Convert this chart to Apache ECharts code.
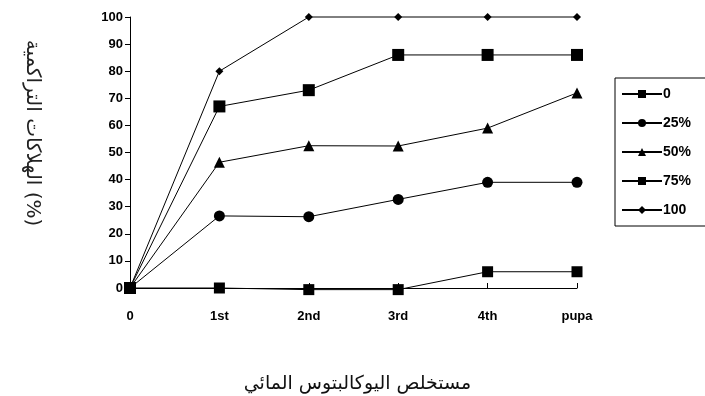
<!DOCTYPE html>
<html>
<head>
<meta charset="utf-8">
<script src="https://cdn.jsdelivr.net/npm/echarts@6/dist/echarts.min.js"></script>
<style>
  html, body { margin: 0; padding: 0; background: #fff; }
  #chart { width: 705px; height: 396px; }
</style>
</head>
<body>
<div id="chart"></div>
<script>
const stages = ['0', '1st', '2nd', '3rd', '4th', 'pupa'];
const yTicks = [0, 10, 20, 30, 40, 50, 60, 70, 80, 90, 100];

const conc0 = [0, 0, -0.6, -0.6, 6, 6];
const conc25 = [0, 26.6, 26.3, 32.7, 39, 39];
const conc50 = [0, 46.4, 52.5, 52.4, 59, 72];
const conc75 = [0, 67, 73, 86, 86, 86];
const conc100 = [0, 80, 100, 100, 100, 100];

const seriesNames = ['0', '25%', '50%', '75%', '100'];
const seriesData = [conc0, conc25, conc50, conc75, conc100];
const seriesSymbols = ['rect', 'circle', 'triangle', 'rect', 'diamond'];
const symbolSizes = [11, 11, 11, 12, 8];

const chart = echarts.init(document.getElementById('chart'));
const boldFont = { fontFamily: 'Liberation Sans', fontWeight: 'bold', fontSize: 13, color: '#000' };

chart.setOption({
  animation: false,
  grid: { left: 130, right: 128, top: 17, bottom: 108, outerBoundsMode: 'none' },
  xAxis: {
    type: 'category',
    data: stages,
    boundaryGap: false,
    name: 'مستخلص اليوكالبتوس المائي',
    nameLocation: 'middle',
    nameGap: 87,
    nameTextStyle: { fontFamily: 'DejaVu Sans', fontSize: 19, color: '#111', padding: [0, 0, 0, 8] },
    axisLine: { onZero: false, lineStyle: { color: '#000', width: 1 } },
    axisTick: { inside: true, length: 5, lineStyle: { color: '#000' } },
    axisLabel: Object.assign({ margin: 22 }, boldFont),
    splitLine: { show: false }
  },
  yAxis: {
    type: 'value',
    min: yTicks[0],
    max: yTicks[yTicks.length - 1],
    interval: 10,
    axisLine: { show: true, lineStyle: { color: '#000', width: 1 } },
    axisTick: { show: true, length: 5, lineStyle: { color: '#000' } },
    axisLabel: Object.assign({ margin: 7 }, boldFont),
    splitLine: { show: false }
  },
  legend: {
    orient: 'vertical',
    left: 615,
    top: 78,
    width: 200,
    padding: [9, 60, 9, 6],
    itemGap: 15,
    itemWidth: 40,
    itemHeight: 10,
    borderColor: '#000',
    borderWidth: 1,
    textStyle: { fontFamily: 'Liberation Sans', fontWeight: 'bold', fontSize: 14, color: '#000', padding: [0, 0, 0, -4] },
    data: seriesNames
  },
  graphic: [{
    type: 'text',
    x: 32,
    y: 133,
    rotation: -Math.PI / 2,
    style: {
      text: 'الهلاكات التراكمية (%)',
      fontFamily: 'DejaVu Sans',
      fontSize: 20,
      fill: '#222',
      textAlign: 'center',
      textVerticalAlign: 'middle'
    }
  }],
  series: seriesNames.map((name, i) => ({
    name: name,
    type: 'line',
    data: seriesData[i],
    symbol: seriesSymbols[i],
    symbolSize: symbolSizes[i],
    showAllSymbol: true,
    clip: false,
    z: 3 + i,
    itemStyle: { color: '#000' },
    lineStyle: { color: '#000', width: 1 }
  }))
});
</script>
</body>
</html>
